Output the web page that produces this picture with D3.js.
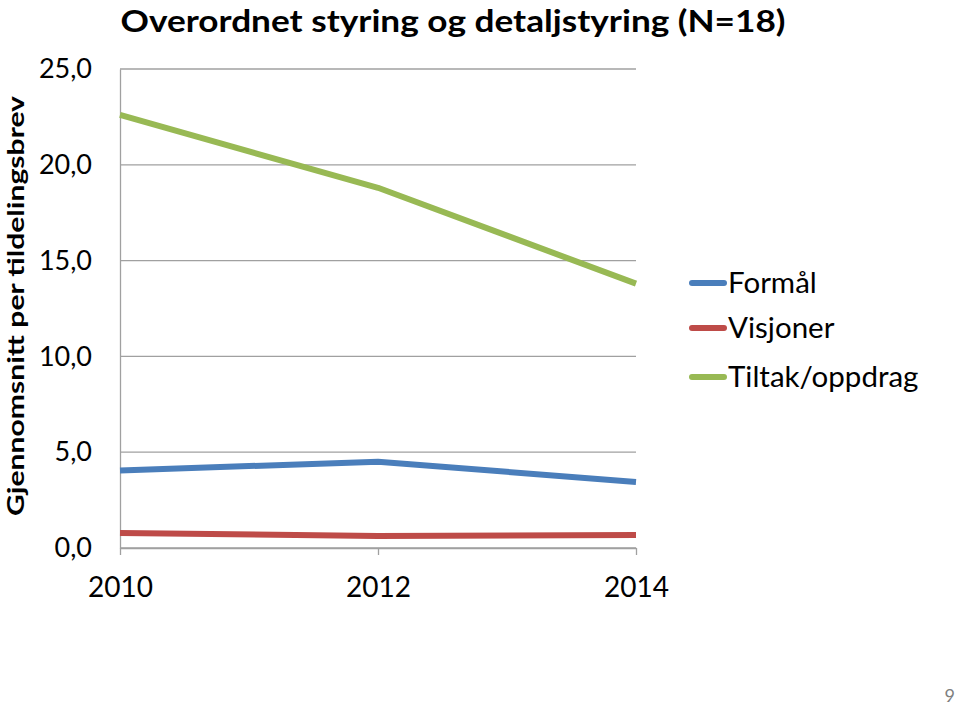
<!DOCTYPE html>
<html><head><meta charset="utf-8">
<script src="https://cdn.jsdelivr.net/npm/d3@7"></script>
<style>body{margin:0;background:#fff}svg{display:block}</style>
</head><body>
<script>
const years = ["2010", "2012", "2014"];
const seriesNames = ["Formål", "Visjoner", "Tiltak/oppdrag"];
const formal = [4.05, 4.5, 3.45];
const visjoner = [0.78, 0.63, 0.68];
const tiltak = [22.6, 18.8, 13.8];
const yTicks = [0, 5, 10, 15, 20, 25];
const colors = ["#4a7ebb", "#be4b48", "#98b954"];
const seriesValues = [formal, visjoner, tiltak];

const W = 960, H = 706;
const svg = d3.select("body").append("svg").attr("width", W).attr("height", H);
const font = "Lato, 'Open Sans', sans-serif";

const x = d3.scalePoint().domain(years).range([120, 636]);
const y = d3.scaleLinear().domain([0, 25]).range([548, 69]);

// gridlines
svg.append("g").selectAll("line").data(yTicks).join("line")
  .attr("x1", 120).attr("x2", 636)
  .attr("y1", d => y(d)).attr("y2", d => y(d))
  .attr("stroke", "#a0a0a0").attr("stroke-width", 1.3);

// y axis
const yAxis = svg.append("g").attr("transform", "translate(120,0)")
  .call(d3.axisLeft(y).tickValues(yTicks).tickSize(0).tickPadding(28)
    .tickFormat(d => d3.format(".1f")(d).replace(".", ",")));
yAxis.select(".domain").attr("stroke", "#a0a0a0").attr("stroke-width", 1.3);
yAxis.selectAll("text").attr("font-family", font).attr("font-size", 27).attr("fill", "#000");

// x axis
const xAxis = svg.append("g").attr("transform", "translate(0,548)")
  .call(d3.axisBottom(x).tickSize(7).tickSizeOuter(0).tickPadding(22));
xAxis.select(".domain").attr("stroke", "#a0a0a0").attr("stroke-width", 1.3);
xAxis.selectAll(".tick line").attr("stroke", "#a0a0a0").attr("stroke-width", 1.3);
xAxis.selectAll("text").attr("font-family", font).attr("font-size", 28).attr("fill", "#000");

// lines
const line = d3.line().x((d, i) => x(years[i])).y(d => y(d));
svg.append("g").selectAll("path").data(seriesValues).join("path")
  .attr("d", d => line(d)).attr("fill", "none")
  .attr("stroke", (d, i) => colors[i]).attr("stroke-width", 6)
  .attr("stroke-linejoin", "round");

// title
svg.append("text").attr("x", 453).attr("y", 32).attr("text-anchor", "middle")
  .attr("font-family", font).attr("font-weight", "bold").attr("font-size", 30)
  .attr("textLength", 665).attr("lengthAdjust", "spacingAndGlyphs")
  .text("Overordnet styring og detaljstyring (N=18)");

// y title
svg.append("text").attr("transform", "translate(24,306) rotate(-90)")
  .attr("text-anchor", "middle").attr("font-family", font).attr("font-weight", "bold")
  .attr("font-size", 23).attr("textLength", 420).attr("lengthAdjust", "spacingAndGlyphs")
  .text("Gjennomsnitt per tildelingsbrev");

// legend
const legY = [283, 328, 377];
const leg = svg.append("g").selectAll("g").data(seriesNames).join("g")
  .attr("transform", (d, i) => `translate(692,${legY[i]})`);
leg.append("line").attr("x1", 0).attr("x2", 32).attr("y1", 0).attr("y2", 0)
  .attr("stroke", (d, i) => colors[i]).attr("stroke-width", 6).attr("stroke-linecap", "round");
leg.append("text").attr("x", 36).attr("y", 10).attr("font-family", font).attr("font-size", 29.5)
  .text(d => d);

// page number
svg.append("text").attr("x", 955).attr("y", 702).attr("text-anchor", "end")
  .attr("font-family", font).attr("font-size", 18).attr("fill", "#7f7f7f").text("9");
</script>
</body></html>
